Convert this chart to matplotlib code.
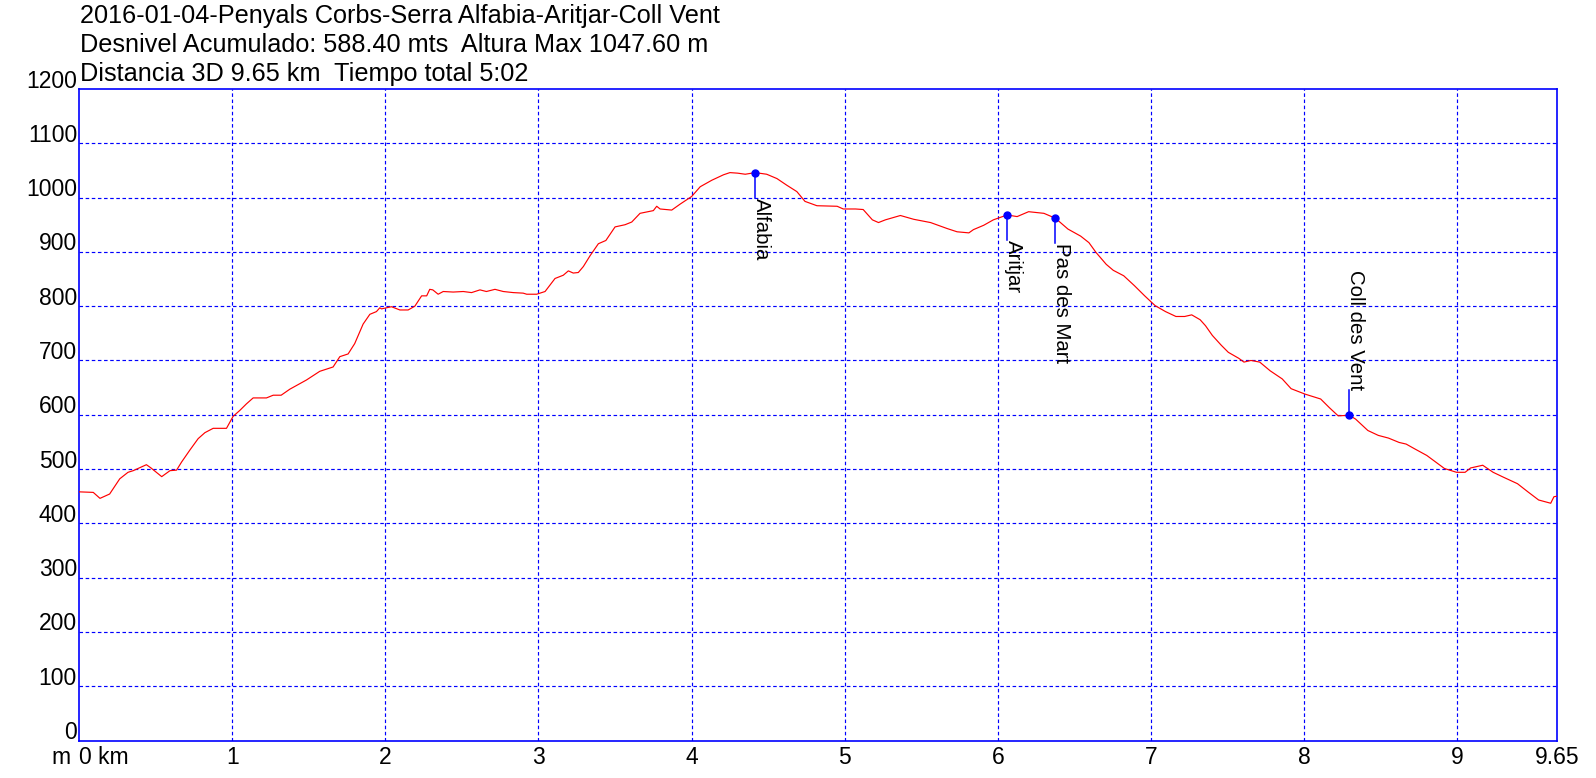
import matplotlib
matplotlib.use("Agg")
import matplotlib.pyplot as plt
import matplotlib.transforms as mtransforms

plt.rcParams["font.family"] = ["Liberation Sans", "DejaVu Sans"]

title_lines = [
    "2016-01-04-Penyals Corbs-Serra Alfabia-Aritjar-Coll Vent",
    "Desnivel Acumulado: 588.40 mts  Altura Max 1047.60 m",
    "Distancia 3D 9.65 km  Tiempo total 5:02",
]

# profile: distance (km) and altitude (m)
dist_km = [
    0.0, 0.093, 0.137, 0.2, 0.266, 0.32, 0.354, 0.44, 0.47, 0.54, 0.594, 0.637,
    0.67, 0.724, 0.778, 0.822, 0.876, 0.963, 1.006, 1.05, 1.093, 1.137, 1.224,
    1.268, 1.32, 1.376, 1.485, 1.572, 1.659, 1.703, 1.757, 1.80, 1.855, 1.899,
    1.942, 1.964, 1.975, 2.04, 2.095, 2.149, 2.193, 2.237, 2.27, 2.29, 2.31,
    2.345, 2.378, 2.443, 2.509, 2.563, 2.618, 2.66, 2.716, 2.77, 2.835, 2.9,
    2.923, 2.988, 3.043, 3.108, 3.162, 3.195, 3.227, 3.26, 3.293, 3.337, 3.391,
    3.44, 3.5, 3.565, 3.609, 3.663, 3.75, 3.772, 3.794, 3.87, 3.925, 4.0, 4.056,
    4.132, 4.208, 4.25, 4.3, 4.35, 4.415, 4.49, 4.557, 4.62, 4.687, 4.74, 4.818,
    4.95, 4.99, 5.07, 5.12, 5.18, 5.22, 5.265, 5.363, 5.45, 5.56, 5.668, 5.733,
    5.81, 5.84, 5.907, 5.97, 6.06, 6.125, 6.2, 6.3, 6.375, 6.457, 6.54, 6.594,
    6.64, 6.707, 6.753, 6.821, 6.89, 6.958, 7.026, 7.094, 7.162, 7.219, 7.265,
    7.32, 7.355, 7.4, 7.458, 7.504, 7.572, 7.606, 7.652, 7.709, 7.777, 7.856,
    7.914, 8.005, 8.107, 8.164, 8.221, 8.295, 8.335, 8.415, 8.483, 8.55, 8.619,
    8.665, 8.722, 8.80, 8.857, 8.915, 8.994, 9.05, 9.086, 9.165, 9.233, 9.30,
    9.392, 9.46, 9.53, 9.609, 9.63, 9.65,
]
alt_m = [
    458, 457, 446, 454, 482, 494, 497, 508, 502, 486, 497, 498,
    513, 535, 556, 567, 575, 575, 597, 608, 620, 631, 631,
    636, 636, 647, 664, 680, 688, 707, 712, 731, 767, 785,
    790, 797, 795, 799, 793, 793, 800, 819, 819, 831, 830,
    822, 827, 826, 827, 825, 830, 827, 831, 827, 825, 824,
    822, 822, 827, 851, 857, 865, 861, 862, 873, 893, 915,
    921, 946, 950, 955, 971, 976, 984, 979, 977, 988, 1002, 1020,
    1032, 1042, 1046, 1045, 1043, 1046, 1043, 1035, 1023, 1011, 993, 985,
    984, 979, 979, 978, 959, 954, 959, 967, 960, 954, 943, 937,
    935, 941, 949, 959, 968, 965, 974, 971, 962, 942, 929, 917,
    899, 877, 866, 856, 838, 819, 801, 790, 781, 781, 784,
    775, 764, 746, 728, 715, 704, 697, 700, 697, 681, 666,
    648, 638, 629, 613, 598, 599, 592, 571, 562, 557, 549,
    546, 537, 525, 513, 501, 494, 494, 502, 507, 494, 485,
    473, 458, 443, 437, 449, 450,
]

wp_names = ["Alfabia", "Aritjar", "Pas des Mart", "Coll des Vent"]
wp_km = [4.415, 6.06, 6.375, 8.295]
wp_alt = [1046, 968, 962, 599]
wp_up = [False, False, False, True]

x_ticks = [0, 1, 2, 3, 4, 5, 6, 7, 8, 9, 9.65]
x_labels = ["0 km", "1", "2", "3", "4", "5", "6", "7", "8", "9", "9.65"]
y_ticks = [0, 100, 200, 300, 400, 500, 600, 700, 800, 900, 1000, 1100, 1200]

W, H = 1596, 778
fig = plt.figure(figsize=(W / 100, H / 100), dpi=100)
ax = fig.add_axes([79 / W, (H - 740.5) / H, (1557 - 79) / W, (740.5 - 89) / H])
ax.set_xlim(0, 9.65)
ax.set_ylim(0, 1200)

for s in ax.spines.values():
    s.set_color("#0000FF")
    s.set_linewidth(1.2)

ax.set_xticks(x_ticks[1:-1])
ax.set_yticks(y_ticks[1:-1])
ax.tick_params(length=0, labelbottom=False, labelleft=False)
ax.grid(True, color="#0000FF", linestyle=(0, (3, 2.2)), linewidth=0.85)

ax.plot(dist_km, alt_m, color="#FF0000", linewidth=0.85, zorder=3)

# waypoints: dot, stem and vertical label
stem = 46
for name, km, alt, up in zip(wp_names, wp_km, wp_alt, wp_up):
    end = alt + stem if up else alt - stem
    ax.plot([km, km], [alt, end], color="#0000FF", linewidth=1.1, zorder=4)
    ax.plot(km, alt, "o", color="#0000FF", markersize=5, zorder=5)
    ax.annotate(name, xy=(km, end), xytext=(-3, 0), textcoords="offset pixels",
                rotation=270, ha="left", va="bottom" if up else "top",
                fontsize=14.7, color="black", zorder=6)

# axis labels
ytrans = mtransforms.offset_copy(ax.get_yaxis_transform(), fig=fig, x=-2, y=1.5, units="dots")
for v in y_ticks:
    ax.text(0, v, str(v), transform=ytrans, ha="right", va="baseline", fontsize=16.5)

xtrans = mtransforms.offset_copy(ax.get_xaxis_transform(), fig=fig, y=-5, units="dots")
for v, lab in zip(x_ticks, x_labels):
    ax.text(v, 0, lab, transform=xtrans, ha="left" if v == 0 else "center",
            va="top", fontsize=16.5)
mtrans = mtransforms.offset_copy(ax.get_xaxis_transform(), fig=fig, x=-8, y=-5, units="dots")
ax.text(0, 0, "m", transform=mtrans, ha="right", va="top", fontsize=16.5)

for i, line in enumerate(title_lines):
    base = [23.5, 52.5, 81.5][i]
    fig.text(80 / W, 1 - base / H, line, ha="left", va="baseline", fontsize=18.2)

fig.savefig("out.png", dpi=100, facecolor="white")
